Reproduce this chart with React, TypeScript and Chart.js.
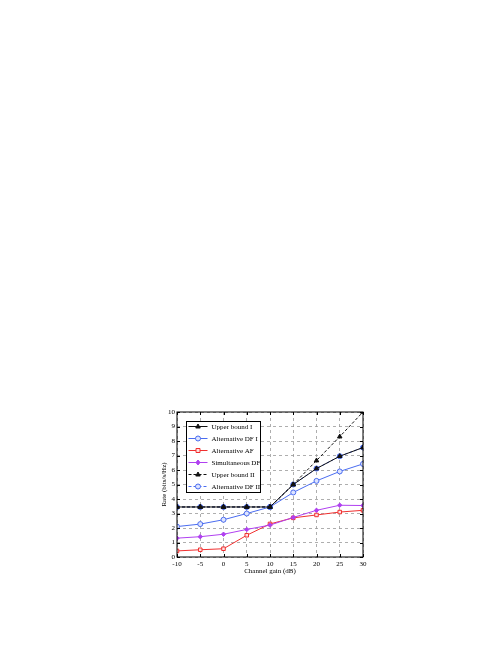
import React, { useEffect, useRef } from "react";
import { Chart, registerables } from "chart.js";

Chart.register(...registerables);

const gains = [-10, -5, 0, 5, 10, 15, 20, 25, 30];
const upperBoundI = [3.45, 3.45, 3.45, 3.45, 3.45, 5.0, 6.1, 6.95, 7.55];
const altDFI = [2.1, 2.27, 2.57, 3.0, 3.45, 4.45, 5.25, 5.9, 6.42];
const altAF = [0.42, 0.5, 0.57, 1.5, 2.28, 2.7, 2.9, 3.1, 3.22];
const simDF = [1.3, 1.4, 1.57, 1.9, 2.2, 2.73, 3.22, 3.57, 3.55];
const upperBoundII = [3.45, 3.45, 3.45, 3.45, 3.45, 5.0, 6.65, 8.3, 10.0];
const altDFII = [3.45, 3.45, 3.45, 3.45, 3.45, 5.0, 6.1, 6.95, 7.55];
const xTicks = [-10, -5, 0, 5, 10, 15, 20, 25, 30];
const yTicks = [0, 1, 2, 3, 4, 5, 6, 7, 8, 9, 10];

const BLUE = "#4a6cf0";
const RED = "#f03030";
const PURPLE = "#b040f0";
const BLACK = "#111111";
const FONT = "'Liberation Serif', 'DejaVu Serif', serif";

type Entry = { label: string; color: string; dash: number[]; style: string; fill: string };
const legendEntries: Entry[] = [
  { label: "Upper bound I", color: BLACK, dash: [], style: "triangle", fill: BLACK },
  { label: "Alternative DF I", color: BLUE, dash: [], style: "circle", fill: "#dde4ff" },
  { label: "Alternative AF", color: RED, dash: [], style: "rect", fill: "#ffe0e0" },
  { label: "Simultaneous DF", color: PURPLE, dash: [], style: "rectRot", fill: PURPLE },
  { label: "Upper bound II", color: BLACK, dash: [3, 2], style: "triangle", fill: BLACK },
  { label: "Alternative DF II", color: BLUE, dash: [3, 2], style: "circle", fill: "#dde4ff" },
];

const frameLegendPlugin = {
  id: "frameLegend",
  afterDraw(chart: any) {
    const { ctx, chartArea: a, scales } = chart;
    ctx.save();
    ctx.strokeStyle = "#000";
    ctx.lineWidth = 1;
    ctx.setLineDash([]);
    ctx.strokeRect(a.left, a.top, a.right - a.left, a.bottom - a.top);
    ctx.beginPath();
    for (const v of xTicks) {
      const x = Math.round(scales.x.getPixelForValue(v)) + 0.5;
      ctx.moveTo(x, a.bottom);
      ctx.lineTo(x, a.bottom - 3);
      ctx.moveTo(x, a.top);
      ctx.lineTo(x, a.top + 3);
    }
    for (const v of yTicks) {
      const y = Math.round(scales.y.getPixelForValue(v)) + 0.5;
      ctx.moveTo(a.left, y);
      ctx.lineTo(a.left + 3, y);
      ctx.moveTo(a.right, y);
      ctx.lineTo(a.right - 3, y);
    }
    ctx.stroke();
    const lx = a.left + 9.5;
    const ly = a.top + 9.5;
    const lw = 74;
    const lh = 71;
    ctx.fillStyle = "#fff";
    ctx.fillRect(lx, ly, lw, lh);
    ctx.strokeStyle = "#000";
    ctx.lineWidth = 1;
    ctx.strokeRect(lx, ly, lw, lh);
    ctx.font = `7px ${FONT}`;
    ctx.textBaseline = "middle";
    ctx.textAlign = "left";
    legendEntries.forEach((e, i) => {
      const y = ly + 5 + i * 12;
      ctx.strokeStyle = e.color;
      ctx.lineWidth = 1;
      ctx.setLineDash(e.dash);
      ctx.beginPath();
      ctx.moveTo(lx + 2, y);
      ctx.lineTo(lx + 21, y);
      ctx.stroke();
      ctx.setLineDash([]);
      ctx.fillStyle = e.fill;
      ctx.strokeStyle = e.color;
      ctx.beginPath();
      const cx = lx + 11.5;
      const r = 2.5;
      if (e.style === "circle") {
        ctx.arc(cx, y, r, 0, Math.PI * 2);
      } else if (e.style === "rect") {
        ctx.rect(cx - r * 0.8, y - r * 0.8, r * 1.6, r * 1.6);
      } else if (e.style === "triangle") {
        ctx.moveTo(cx, y - r);
        ctx.lineTo(cx + r * 0.9, y + r * 0.6);
        ctx.lineTo(cx - r * 0.9, y + r * 0.6);
        ctx.closePath();
      } else {
        ctx.moveTo(cx, y - r);
        ctx.lineTo(cx + r * 0.8, y);
        ctx.lineTo(cx, y + r);
        ctx.lineTo(cx - r * 0.8, y);
        ctx.closePath();
      }
      ctx.fill();
      ctx.stroke();
      ctx.fillStyle = "#000";
      ctx.fillText(e.label, lx + 25, y + 0.5);
    });
    ctx.restore();
  },
};

export default function App() {
  const ref = useRef<HTMLCanvasElement | null>(null);
  useEffect(() => {
    if (!ref.current) return;
    const mk = (d: number[]) => gains.map((g, i) => ({ x: g, y: d[i] }));
    const chart = new Chart(ref.current, {
      type: "scatter",
      data: {
        datasets: [
          {
            label: "Upper bound I", data: mk(upperBoundI), showLine: true, order: 1,
            borderColor: BLACK, backgroundColor: BLACK, borderWidth: 1,
            pointStyle: "triangle", pointRadius: 2.6, pointBorderWidth: 1,
          },
          {
            label: "Alternative DF I", data: mk(altDFI), showLine: true, order: 4,
            borderColor: BLUE, backgroundColor: "#dde4ff", borderWidth: 1,
            pointStyle: "circle", pointRadius: 2.5, pointBorderWidth: 1,
          },
          {
            label: "Alternative AF", data: mk(altAF), showLine: true, order: 6,
            borderColor: RED, backgroundColor: "#ffe0e0", borderWidth: 1,
            pointStyle: "rect", pointRadius: 2.5, pointBorderWidth: 1,
          },
          {
            label: "Simultaneous DF", data: mk(simDF), showLine: true, order: 5,
            borderColor: PURPLE, backgroundColor: PURPLE, borderWidth: 1,
            pointStyle: "rectRot", pointRadius: 2.2, pointBorderWidth: 1,
          },
          {
            label: "Upper bound II", data: mk(upperBoundII), showLine: true, order: 2,
            borderColor: BLACK, backgroundColor: BLACK, borderWidth: 1, borderDash: [3, 2],
            pointStyle: "triangle", pointRadius: 2.6, pointBorderWidth: 1,
          },
          {
            label: "Alternative DF II", data: mk(altDFII), showLine: true, order: 3,
            borderColor: BLUE, backgroundColor: BLUE, borderWidth: 1, borderDash: [3, 2],
            pointStyle: "circle", pointRadius: 2.5, pointBorderWidth: 1,
          },
        ],
      },
      options: {
        animation: false,
        responsive: false,
        events: [],
        layout: { padding: { left: 150, right: 135, top: 412, bottom: 60 } },
        plugins: { legend: { display: false }, tooltip: { enabled: false } },
        scales: {
          x: {
            type: "linear", min: -10, max: 30,
            afterFit: (s: any) => { s.height = 28; },
            afterBuildTicks: (s: any) => { s.ticks = xTicks.map((v) => ({ value: v })); },
            grid: { color: "#9a9a9a", lineWidth: 0.8, drawTicks: false },
            border: { display: false, dash: [3, 3] },
            ticks: {
              color: "#000", font: { family: FONT, size: 7 }, padding: 3, maxRotation: 0,
              callback: (v: any) => String(v),
            },
            title: { display: true, text: "Channel gain (dB)", color: "#000", font: { family: FONT, size: 7 }, padding: { top: 0, bottom: 10 } },
          },
          y: {
            type: "linear", min: 0, max: 10,
            afterFit: (s: any) => { s.width = 27; },
            afterBuildTicks: (s: any) => { s.ticks = yTicks.map((v) => ({ value: v })); },
            grid: { color: "#9a9a9a", lineWidth: 0.8, drawTicks: false },
            border: { display: false, dash: [3, 3] },
            ticks: { color: "#000", font: { family: FONT, size: 7 }, padding: 2, callback: (v: any) => String(v) },
            title: { display: true, text: "Rate (bits/s/Hz)", color: "#000", font: { family: FONT, size: 7 }, padding: { top: 10, bottom: 0 } },
          },
        },
      },
      plugins: [frameLegendPlugin],
    });
    return () => chart.destroy();
  }, []);
  return (
    <div style={{ position: "fixed", left: 0, top: 0, width: 498, height: 645, background: "#fff" }}>
      <canvas ref={ref} width={498} height={645} style={{ width: 498, height: 645, display: "block" }} />
    </div>
  );
}
